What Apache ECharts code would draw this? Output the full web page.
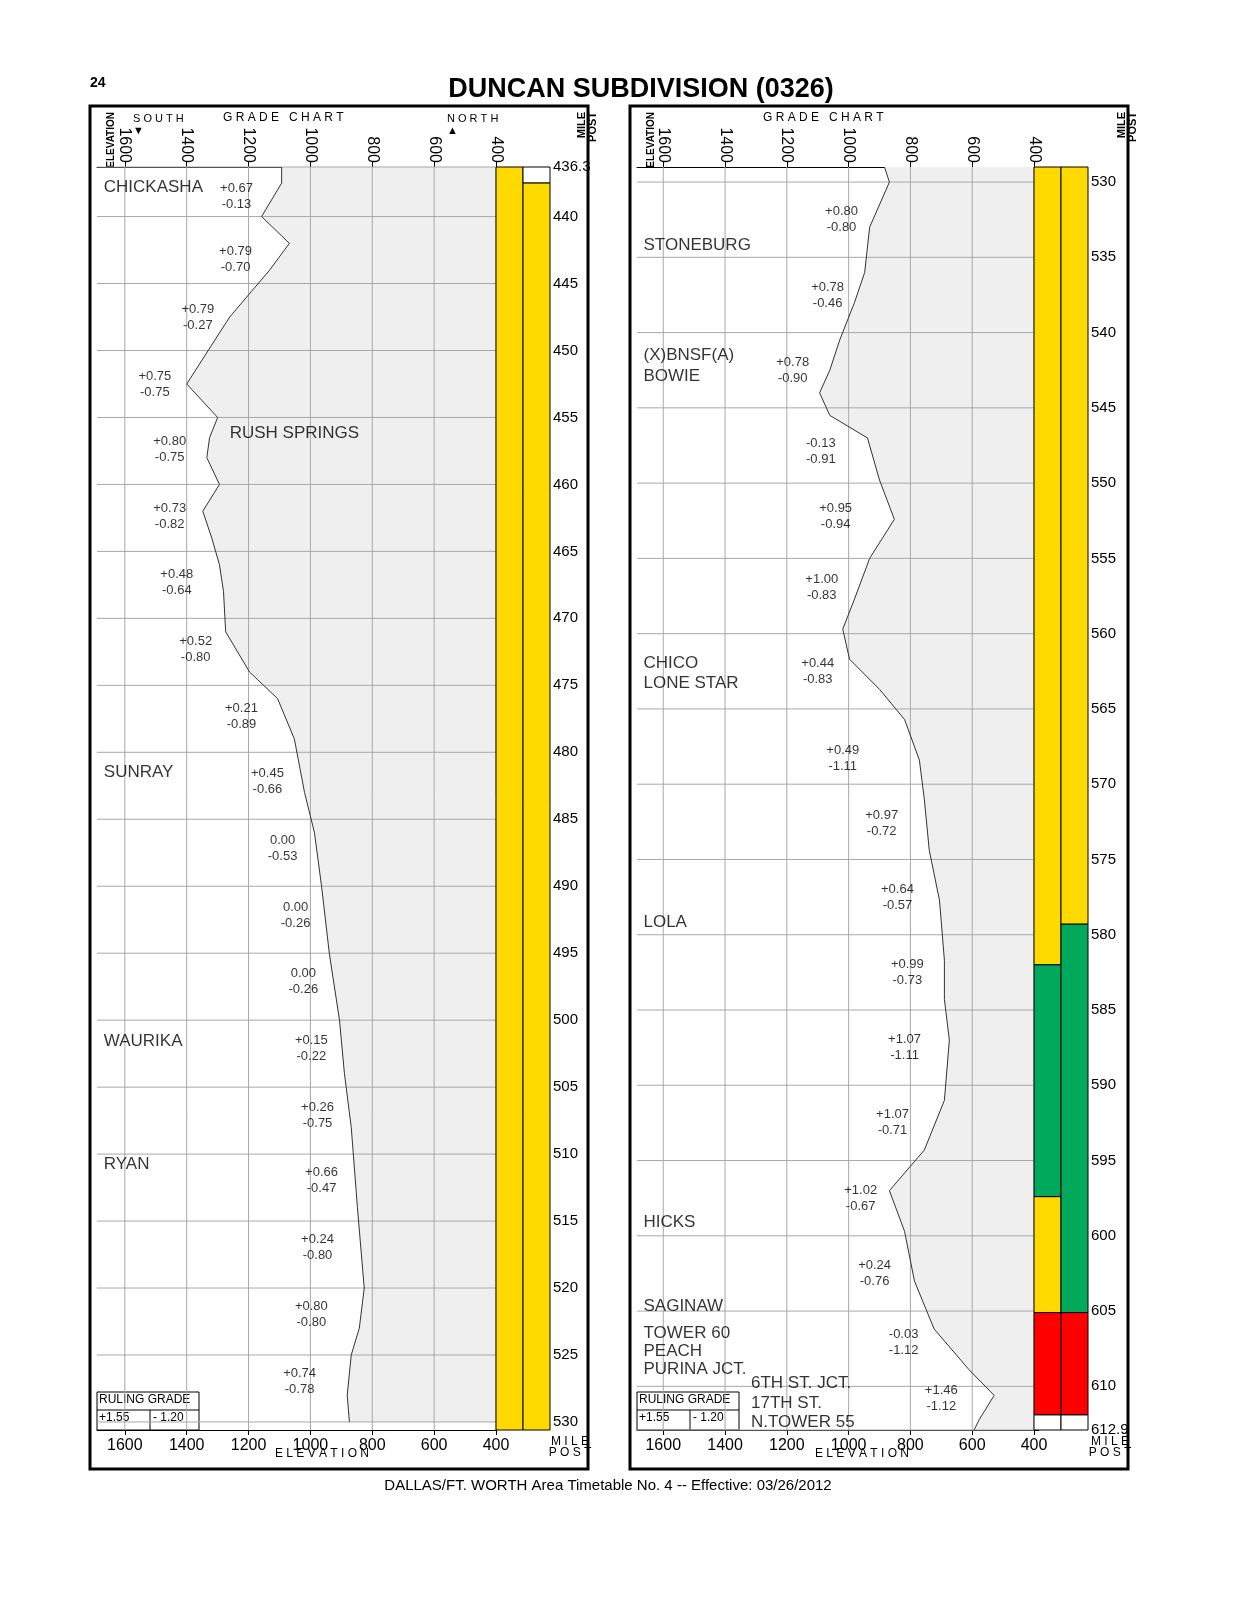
<!DOCTYPE html>
<html lang="en">
<head>
<meta charset="UTF-8">
<title>Duncan Subdivision Grade Chart</title>
<style>
  body { margin: 0; background: #fff; }
  #chart { width: 1236px; height: 1600px; }
</style>
</head>
<body>
<div id="chart"></div>
<script src="https://cdn.jsdelivr.net/npm/echarts@6/dist/echarts.min.js"></script>
<script>
// ---- data: left panel (MP 436.3 - 530) ----
var leftProfile = [
  [436.3,1093],[437.5,1093],[440,1158],[442,1068],[444,1132],[447.5,1261],[452.5,1400],
  [455,1300],[456.5,1326],[458,1335],[460,1294],[462,1348],[464,1319],[466,1294],
  [468,1281],[471,1274],[474,1197],[476,1106],[479,1052],[483,1019],[486,987],
  [490,964],[495,939],[500,906],[504,890],[508,868],[514,848],[520,826],[523,842],
  [525,868],[528,881],[530,874]
];
var leftGrades = [
  [438.5,1239,'+0.67','-0.13'],[443.2,1242,'+0.79','-0.70'],[447.5,1364,'+0.79','-0.27'],
  [452.5,1503,'+0.75','-0.75'],[457.4,1455,'+0.80','-0.75'],[462.4,1455,'+0.73','-0.82'],
  [467.3,1432,'+0.48','-0.64'],[472.3,1371,'+0.52','-0.80'],[477.3,1223,'+0.21','-0.89'],
  [482.2,1139,'+0.45','-0.66'],[487.2,1090,'0.00','-0.53'],[492.2,1048,'0.00','-0.26'],
  [497.1,1023,'0.00','-0.26'],[502.1,997,'+0.15','-0.22'],[507.1,977,'+0.26','-0.75'],
  [512,964,'+0.66','-0.47'],[517,977,'+0.24','-0.80'],[522,997,'+0.80','-0.80'],
  [527,1035,'+0.74','-0.78']
];
var leftStations = [
  [437.8,1668,'CHICKASHA'],[456.2,1261,'RUSH SPRINGS'],[481.5,1668,'SUNRAY'],
  [501.6,1668,'WAURIKA'],[510.8,1668,'RYAN']
];
var leftMiles = [436.3,440,445,450,455,460,465,470,475,480,485,490,495,500,505,510,515,520,525,530];
var leftTrack = [
  [0,436.3,530.6,'#FFDA00'],[1,436.3,437.5,'#FFFFFF'],[1,437.5,530.6,'#FFDA00']
];

// ---- data: right panel (MP 530 - 612.9) ----
var rightProfile = [
  [529,884],[530,868],[533,932],[536,948],[538,981],[540.5,1029],[542.5,1061],[544,1094],
  [545.5,1061],[547,939],[549.8,900],[552.4,852],[555,932],[557.7,981],[559.7,1019],
  [561.7,997],[563.7,900],[565.7,819],[568.4,771],[571,755],[574.4,739],[577.7,706],
  [581.7,690],[584.3,690],[587,674],[591,690],[594.3,755],[597,868],[599.7,819],
  [603,787],[606.2,723],[608.9,610],[610.6,529],[612.2,577],[612.9,594]
];
var rightGrades = [
  [532.5,1023,'+0.80','-0.80'],[537.5,1068,'+0.78','-0.46'],[542.5,1181,'+0.78','-0.90'],
  [547.9,1090,'-0.13','-0.91'],[552.2,1042,'+0.95','-0.94'],[556.9,1087,'+1.00','-0.83'],
  [562.5,1100,'+0.44','-0.83'],[568.3,1019,'+0.49','-1.11'],[572.6,893,'+0.97','-0.72'],
  [577.5,842,'+0.64','-0.57'],[582.5,810,'+0.99','-0.73'],[587.5,819,'+1.07','-1.11'],
  [592.5,858,'+1.07','-0.71'],[597.5,961,'+1.02','-0.67'],[602.5,916,'+0.24','-0.76'],
  [607.1,822,'-0.03','-1.12'],[610.8,700,'+1.46','-1.12']
];
var rightStations = [
  [534.2,1664,'STONEBURG'],[541.5,1664,'(X)BNSF(A)'],[542.9,1664,'BOWIE'],
  [562,1664,'CHICO'],[563.3,1664,'LONE STAR'],[579.2,1664,'LOLA'],[599.1,1664,'HICKS'],
  [604.7,1664,'SAGINAW'],[606.5,1664,'TOWER 60'],[607.7,1664,'PEACH'],
  [608.9,1664,'PURINA JCT.'],[609.8,1316,'6TH ST. JCT.'],[611.1,1316,'17TH ST.'],
  [612.4,1316,'N.TOWER 55']
];
var rightMiles = [530,535,540,545,550,555,560,565,570,575,580,585,590,595,600,605,610,612.9];
var rightTrack = [
  [0,529,582,'#FFDA00'],[0,582,597.4,'#00A95C'],[0,597.4,605.1,'#FFDA00'],[0,605.1,611.9,'#FF0000'],[0,611.9,612.9,'#FFFFFF'],
  [1,529,579.3,'#FFDA00'],[1,579.3,605.1,'#00A95C'],[1,605.1,611.9,'#FF0000'],[1,611.9,612.9,'#FFFFFF']
];
var elevTicks = [400,600,800,1000,1200,1400,1600];

var FONT = 'Liberation Sans';
var chart = echarts.init(document.getElementById('chart'));
var grids = [], xAxes = [], yAxes = [], series = [];

function elevLabel(v) { return elevTicks.indexOf(v) >= 0 ? String(v) : ''; }

function panel(p) {
  var gi = grids.length;
  grids.push({left: p.left, width: p.plotW, top: 167, height: 1263});
  grids.push({left: p.left + p.plotW, width: 54, top: 167, height: 1263});
  var xi = xAxes.length, yi = yAxes.length;
  var elevAxis = {
    type: 'value', inverse: true, min: 400, max: p.maxElev, interval: 200,
    splitLine: {show: false}, axisLine: {show: true, lineStyle: {color: '#000'}},
    axisTick: {show: true, length: 5, lineStyle: {color: '#000'}}
  };
  xAxes.push(Object.assign({}, elevAxis, {gridIndex: gi, position: 'bottom',
    axisLabel: {color: '#000', fontSize: 16, fontFamily: FONT, margin: 8, showMaxLabel: false, formatter: elevLabel}}));
  xAxes.push(Object.assign({}, elevAxis, {gridIndex: gi, position: 'top',
    axisLabel: {color: '#000', fontSize: 16, fontFamily: FONT, rotate: 90, margin: 4, showMaxLabel: false, formatter: elevLabel}}));
  xAxes.push({gridIndex: gi + 1, type: 'value', min: 0, max: 2, show: false});
  yAxes.push({gridIndex: gi, type: 'value', inverse: true, min: p.minMile, max: p.maxMile, show: false});
  yAxes.push({gridIndex: gi + 1, type: 'value', inverse: true, min: p.minMile, max: p.maxMile,
    position: 'right', axisLine: {show: true, lineStyle: {color: '#000'}},
    axisTick: {show: true, customValues: p.miles, length: 5, lineStyle: {color: '#000'}},
    axisLabel: {customValues: p.miles, color: '#000', fontSize: 15, fontFamily: FONT, margin: 3,
      formatter: function (v) { return String(v); }},
    splitLine: {show: false}});

  // grey area right of the profile
  series.push({type: 'custom', xAxisIndex: xi, yAxisIndex: yi, data: [0], silent: true,
    renderItem: function (params, api) {
      var pts = p.profile.map(function (d) { return api.coord([d[1], d[0]]); });
      var last = p.profile[p.profile.length - 1], first = p.profile[0];
      pts.push(api.coord([400, last[0]]));
      pts.push(api.coord([400, first[0]]));
      return {type: 'polygon', shape: {points: pts}, style: {fill: '#EFEFEF', stroke: null}};
    }});
  // grid lines
  var lines = p.miles.map(function (m) { return ['h', m]; })
    .concat(elevTicks.map(function (e) { return ['v', e]; }));
  series.push({type: 'custom', xAxisIndex: xi, yAxisIndex: yi, data: lines, silent: true,
    renderItem: function (params, api) {
      var k = lines[params.dataIndex], a, b;
      if (k[0] === 'h') { a = api.coord([p.maxElev, k[1]]); b = api.coord([400, k[1]]); }
      else { a = api.coord([k[1], p.minMile]); b = api.coord([k[1], p.maxMile]); }
      return {type: 'line', shape: {x1: a[0], y1: a[1], x2: b[0], y2: b[1]},
        style: {stroke: '#A8A8A8', lineWidth: 1}};
    }});
  // profile line
  series.push({type: 'line', xAxisIndex: xi, yAxisIndex: yi, showSymbol: false, silent: true,
    data: p.profile.map(function (d) { return [d[1], d[0]]; }),
    lineStyle: {color: '#333', width: 1}});
  // grade labels
  series.push({type: 'scatter', xAxisIndex: xi, yAxisIndex: yi, symbolSize: 0, silent: true,
    data: p.grades.map(function (d) { return [d[1], d[0], d[2] + '\n' + d[3]]; }),
    label: {show: true, position: [0, 0], align: 'center', verticalAlign: 'middle',
      formatter: function (o) { return o.value[2]; }, color: '#000', fontSize: 13,
      lineHeight: 16, fontFamily: FONT}});
  // station names
  series.push({type: 'scatter', xAxisIndex: xi, yAxisIndex: yi, symbolSize: 0, silent: true,
    data: p.stations.map(function (d) { return [d[1], d[0], d[2]]; }),
    label: {show: true, position: [0, 0], align: 'left', verticalAlign: 'middle',
      formatter: function (o) { return o.value[2]; }, color: '#000', fontSize: 17, fontFamily: FONT}});
  // track blocks
  series.push({type: 'custom', xAxisIndex: xi + 2, yAxisIndex: yi + 1, data: p.track, silent: true,
    renderItem: function (params, api) {
      var t = p.track[params.dataIndex];
      var a = api.coord([t[0], t[1]]), b = api.coord([t[0] + 1, t[2]]);
      return {type: 'rect', shape: {x: a[0], y: a[1], width: b[0] - a[0], height: b[1] - a[1]},
        style: {fill: t[3], stroke: '#000', lineWidth: 1}};
    }});
}

panel({left: 97, plotW: 399, maxElev: 1690, minMile: 436.3, maxMile: 530.6,
  profile: leftProfile, grades: leftGrades, stations: leftStations, miles: leftMiles, track: leftTrack});
panel({left: 637, plotW: 397, maxElev: 1685, minMile: 529, maxMile: 612.9,
  profile: rightProfile, grades: rightGrades, stations: rightStations, miles: rightMiles, track: rightTrack});

function header(x0) {
  var t = {fontFamily: FONT, fill: '#000'};
  return [
    {type: 'rect', shape: {x: x0, y: 106, width: 498, height: 1363}, style: {fill: null, stroke: '#000', lineWidth: 3}},
    {type: 'text', x: x0 + 16, y: 112, rotation: Math.PI / 2, originX: 0, originY: 0,
      style: {text: 'ELEVATION', font: 'bold 10px ' + FONT, fill: '#000', align: 'right', verticalAlign: 'top'}},
    {type: 'text', x: x0 + 486, y: 112, rotation: Math.PI / 2,
      style: {text: 'MILE\nPOST', font: 'bold 11px ' + FONT, lineHeight: 11, fill: '#000', align: 'right', verticalAlign: 'top'}},
    {type: 'text', x: x0 + 133, y: 112,
      style: Object.assign({text: 'G R A D E   C H A R T', font: '21px ' + FONT}, t)},
    {type: 'rect', shape: {x: x0 + 7, y: 1392, width: 102, height: 38}, style: {fill: '#fff', stroke: '#000', lineWidth: 1}},
    {type: 'line', shape: {x1: x0 + 7, y1: 1410, x2: x0 + 109, y2: 1410}, style: {stroke: '#000'}},
    {type: 'line', shape: {x1: x0 + 60, y1: 1410, x2: x0 + 60, y2: 1430}, style: {stroke: '#000'}},
    {type: 'text', x: x0 + 9, y: 1394, style: Object.assign({text: 'RULING GRADE', font: '13px ' + FONT}, t)},
    {type: 'text', x: x0 + 9, y: 1412, style: Object.assign({text: '+1.55', font: '16px ' + FONT}, t)},
    {type: 'text', x: x0 + 63, y: 1412, style: Object.assign({text: '- 1.20', font: '16px ' + FONT}, t)},
    {type: 'text', x: x0 + 185, y: 1448, style: Object.assign({text: 'E L E V A T I O N', font: 'bold 10px ' + FONT}, t)},
    {type: 'text', x: x0 + 480, y: 1436, style: Object.assign({text: 'M I L E\nP O S T', font: 'bold 10px ' + FONT, lineHeight: 11, align: 'center'}, t)}
  ];
}
var g = [
  {type: 'text', x: 90, y: 76, style: {text: '24', font: 'bold 14px ' + FONT, fill: '#000'}},
  {type: 'text', x: 641, y: 76, style: {text: 'DUNCAN SUBDIVISION (0326)', font: 'bold 27px ' + FONT, fill: '#000', align: 'center'}},
  {type: 'text', x: 608, y: 1478, style: {text: 'DALLAS/FT. WORTH Area Timetable No. 4 -- Effective: 03/26/2012', font: '15px ' + FONT, fill: '#000', align: 'center'}},
  {type: 'text', x: 133, y: 113, style: {text: 'S O U T H\n▼', font: '11px ' + FONT, fill: '#000', align: 'left', lineHeight: 12}},
  {type: 'text', x: 447, y: 113, style: {text: 'N O R T H\n▲', font: '11px ' + FONT, fill: '#000', lineHeight: 12}}
].concat(header(90), header(630));

chart.setOption({
  animation: false,
  grid: grids, xAxis: xAxes, yAxis: yAxes, series: series, graphic: g
});
</script>
</body>
</html>
